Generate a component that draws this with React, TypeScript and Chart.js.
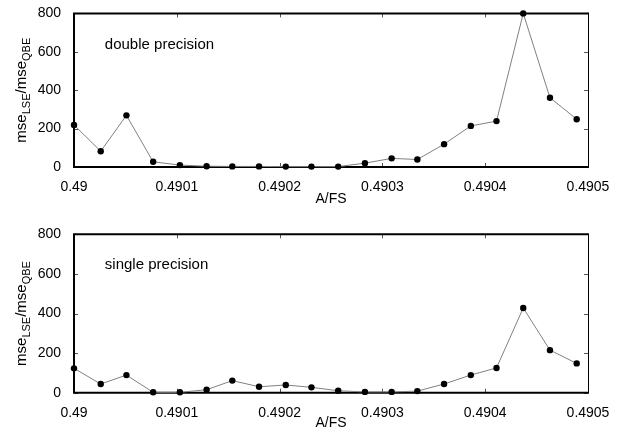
import React, { useEffect, useRef } from 'react';
import { Chart, registerables } from 'chart.js';

Chart.register(...registerables);

// A/FS sample positions
const xValues = [
  0.49, 0.490026, 0.490051, 0.490077, 0.490103, 0.490129, 0.490154, 0.49018, 0.490206, 0.490231,
  0.490257, 0.490283, 0.490309, 0.490334, 0.49036, 0.490386, 0.490411, 0.490437, 0.490463, 0.490489,
];
// mse_LSE / mse_QBE, double precision
const doubleValues = [219, 82, 269, 27, 10, 4, 3, 3, 2, 2, 2, 20, 45, 39, 119, 214, 239, 800, 361, 249];
// mse_LSE / mse_QBE, single precision
const singleValues = [123, 44, 89, 2, 2, 15, 61, 30, 39, 27, 10, 4, 4, 8, 44, 89, 125, 428, 215, 148];

const xMin = 0.49;
const xMax = 0.4905;
const xStep = 0.0001;
const yMin = 0;
const yMax = 800;
const yStep = 200;
const xTitle = 'A/FS';
const panelLabels = ['double precision', 'single precision'];

const FONT = "'Liberation Sans', Arial, sans-serif";

const framePlugin = {
  id: 'frame',
  beforeDatasetsDraw(chart: any) {
    const { ctx, chartArea } = chart;
    const { left, right, top, bottom } = chartArea;
    const xs = chart.scales.x;
    const ys = chart.scales.y;
    ctx.save();
    // inward ticks
    ctx.strokeStyle = '#555';
    ctx.lineWidth = 1;
    const tl = 4;
    ctx.beginPath();
    xs.ticks.forEach((t: any) => {
      const px = Math.round(xs.getPixelForValue(t.value)) + 0.5;
      ctx.moveTo(px, bottom);
      ctx.lineTo(px, bottom - tl);
      ctx.moveTo(px, top);
      ctx.lineTo(px, top + tl);
    });
    ys.ticks.forEach((t: any) => {
      const py = Math.round(ys.getPixelForValue(t.value)) + 0.5;
      ctx.moveTo(left, py);
      ctx.lineTo(left + tl, py);
      ctx.moveTo(right, py);
      ctx.lineTo(right - tl, py);
    });
    ctx.stroke();
    // frame
    ctx.strokeStyle = '#000';
    ctx.lineWidth = 2;
    ctx.beginPath();
    ctx.moveTo(left, top);
    ctx.lineTo(right, top);
    ctx.moveTo(left, bottom);
    ctx.lineTo(right, bottom);
    ctx.moveTo(left, top - 1);
    ctx.lineTo(left, bottom + 1);
    ctx.stroke();
    ctx.lineWidth = 1;
    ctx.beginPath();
    ctx.moveTo(right + 0.5, top - 1);
    ctx.lineTo(right + 0.5, bottom + 1);
    ctx.stroke();
    ctx.restore();
  },
  afterDraw(chart: any) {
    const { ctx, chartArea } = chart;
    const opts = chart.options.plugins.frame || {};
    ctx.save();
    // panel label
    const xs = chart.scales.x;
    const ys = chart.scales.y;
    ctx.fillStyle = '#000';
    ctx.font = `15px ${FONT}`;
    ctx.textBaseline = 'middle';
    ctx.textAlign = 'left';
    ctx.fillText(opts.label || '', xs.getPixelForValue(opts.labelX), ys.getPixelForValue(opts.labelY));
    // y axis title with subscripts
    const cy = (chartArea.top + chartArea.bottom) / 2;
    const cx = 22;
    ctx.translate(cx, cy);
    ctx.rotate(-Math.PI / 2);
    const parts: [string, boolean][] = [
      ['mse', false],
      ['LSE', true],
      ['/mse', false],
      ['QBE', true],
    ];
    const mainFont = `15px ${FONT}`;
    const subFont = `11px ${FONT}`;
    let total = 0;
    parts.forEach(([s, sub]) => {
      ctx.font = sub ? subFont : mainFont;
      total += ctx.measureText(s).width;
    });
    let x = -total / 2;
    ctx.textAlign = 'left';
    ctx.textBaseline = 'alphabetic';
    parts.forEach(([s, sub]) => {
      ctx.font = sub ? subFont : mainFont;
      ctx.fillText(s, x, sub ? 8 : 4);
      x += ctx.measureText(s).width;
    });
    ctx.restore();
  },
};

function buildConfig(values: number[], label: string, labelY: number, axisH: number, padTop: number, padBottom: number) {
  return {
    type: 'line' as const,
    data: {
      datasets: [
        {
          data: xValues.map((x, i) => ({ x, y: values[i] })),
          borderColor: '#808080',
          borderWidth: 1,
          pointRadius: 3.2,
          pointBackgroundColor: '#000',
          pointBorderColor: '#000',
          pointBorderWidth: 0,
          tension: 0,
          clip: false as any,
        },
      ],
    },
    options: {
      animation: false as const,
      responsive: false,
      maintainAspectRatio: false,
      layout: { padding: { left: 0, right: 37, top: padTop, bottom: padBottom } },
      plugins: {
        legend: { display: false },
        tooltip: { enabled: false },
        frame: { label, labelX: 0.49003, labelY },
      } as any,
      scales: {
        x: {
          type: 'linear' as const,
          min: xMin,
          max: xMax,
          grid: { display: false },
          border: { display: false },
          ticks: {
            stepSize: xStep,
            color: '#000',
            font: { family: FONT, size: 14 },
            padding: 4,
            maxRotation: 0,
            autoSkip: false,
            callback: (v: any) => String(Number(Number(v).toFixed(4))),
          },
          title: {
            display: true,
            text: xTitle,
            color: '#000',
            font: { family: FONT, size: 14 },
            padding: { top: 0, bottom: 0 },
          },
          afterFit: (s: any) => {
            s.height = axisH;
          },
        },
        y: {
          type: 'linear' as const,
          min: yMin,
          max: yMax,
          grid: { display: false },
          border: { display: false },
          ticks: {
            stepSize: yStep,
            color: '#000',
            font: { family: FONT, size: 14 },
            padding: 5,
          },
          afterFit: (s: any) => {
            s.width = 74;
          },
        },
      },
    },
    plugins: [framePlugin],
  };
}

function Panel({ values, label, labelY, top, axisH, padTop, padBottom }: any) {
  const ref = useRef<HTMLCanvasElement>(null);
  useEffect(() => {
    if (!ref.current) return;
    const chart = new Chart(ref.current, buildConfig(values, label, labelY, axisH, padTop, padBottom) as any);
    return () => chart.destroy();
  }, []);
  return (
    <canvas
      ref={ref}
      width={625}
      height={217}
      style={{ position: 'absolute', left: 0, top, width: 625, height: 217 }}
    />
  );
}

export default function App() {
  return (
    <div style={{ position: 'absolute', left: 0, top: 0, width: 625, height: 434, background: '#fff' }}>
      <Panel values={doubleValues} label={panelLabels[0]} labelY={635} top={0} axisH={41} padTop={7.5} padBottom={9} />
      <Panel values={singleValues} label={panelLabels[1]} labelY={645} top={217} axisH={39} padTop={17.3} padBottom={2.3} />
    </div>
  );
}
